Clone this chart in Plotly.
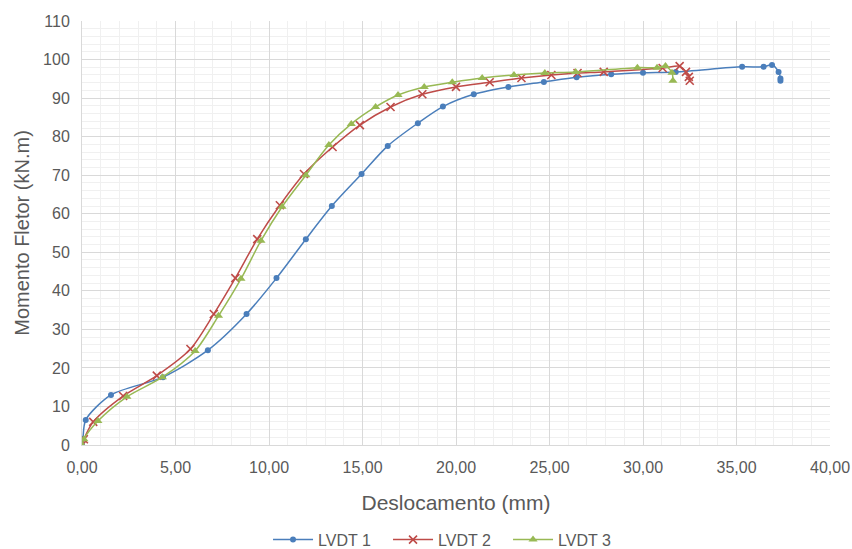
import plotly.graph_objects as go

# LVDT 1
x1 = [0.0, 0.05, 0.2, 1.55, 4.33, 6.73, 8.8, 10.4, 11.97, 13.36, 14.95, 16.35, 17.96, 19.3,
      20.95, 22.8, 24.7, 26.45, 28.3, 30.0, 31.75, 35.3, 36.45, 36.9, 37.25, 37.35, 37.35]
y1 = [0.0, 1.6, 6.5, 13.0, 17.6, 24.6, 34.0, 43.3, 53.4, 62.0, 70.3, 77.6, 83.5, 87.8,
      91.0, 92.9, 94.2, 95.4, 96.2, 96.6, 96.8, 98.1, 98.1, 98.6, 96.8, 95.1, 94.5]

# LVDT 2
x2 = [0.0, 0.1, 0.6, 2.2, 4.0, 5.8, 7.05, 8.2, 9.37, 10.58, 11.87, 13.4, 14.86, 16.5, 18.2,
      20.0, 21.8, 23.5, 25.1, 26.5, 27.9, 31.05, 31.96, 32.3, 32.45, 32.5]
y2 = [0.0, 1.5, 6.0, 12.7, 18.0, 24.9, 34.0, 43.3, 53.4, 62.2, 70.3, 77.3, 83.0, 87.7, 91.0,
      92.9, 94.1, 95.2, 96.0, 96.5, 96.8, 97.8, 98.3, 96.8, 95.5, 94.5]

# LVDT 3
x3 = [0.0, 0.1, 0.85, 2.4, 4.3, 6.05, 7.3, 8.5, 9.57, 10.7, 11.97, 13.2, 14.4, 15.7, 16.9,
      18.3, 19.8, 21.4, 23.1, 24.75, 26.4, 29.7, 30.75, 31.2, 31.55, 31.6]
y3 = [0.0, 1.5, 6.2, 12.5, 17.6, 24.4, 33.5, 43.1, 53.0, 61.8, 70.0, 77.8, 83.3, 87.7, 90.8,
      92.9, 94.1, 95.2, 96.0, 96.5, 96.8, 97.9, 97.9, 98.3, 96.6, 94.5]

x_tickvals = [0, 5, 10, 15, 20, 25, 30, 35, 40]
x_ticktext = ["0,00", "5,00", "10,00", "15,00", "20,00", "25,00", "30,00", "35,00", "40,00"]
y_tickvals = [0, 10, 20, 30, 40, 50, 60, 70, 80, 90, 100, 110]

fig = go.Figure()
fig.add_trace(go.Scatter(x=x1, y=y1, name="LVDT 1", mode="lines+markers",
                         line=dict(color="#4a7ebb", width=1.5, shape="spline", smoothing=0.8),
                         marker=dict(symbol="circle", size=6, color="#4a7ebb")))
fig.add_trace(go.Scatter(x=x2, y=y2, name="LVDT 2", mode="lines+markers",
                         line=dict(color="#be4b48", width=1.5, shape="spline", smoothing=0.8),
                         marker=dict(symbol="x-thin", size=8, color="#be4b48",
                                     line=dict(color="#be4b48", width=1.6))))
fig.add_trace(go.Scatter(x=x3, y=y3, name="LVDT 3", mode="lines+markers",
                         line=dict(color="#98b954", width=1.5, shape="spline", smoothing=0.8),
                         marker=dict(symbol="triangle-up", size=8, color="#98b954")))

fig.update_layout(
    width=852, height=549,
    margin=dict(l=82, r=22, t=21, b=104, autoexpand=False),
    paper_bgcolor="white", plot_bgcolor="white",
    font=dict(family="Liberation Sans, Arial, sans-serif", color="#595959", size=16),
    showlegend=True,
    legend=dict(orientation="h", x=0.2487, xanchor="left", yref="container", y=0.017,
                yanchor="middle", font=dict(size=16, color="#595959"), traceorder="normal",
                itemwidth=40, entrywidth=65),
)
fig.update_xaxes(range=[0, 40], tickvals=x_tickvals, ticktext=x_ticktext,
                 automargin=False, ticklabelstandoff=8,
                 showgrid=True, gridcolor="#d9d9d9", gridwidth=1,
                 minor=dict(dtick=1, showgrid=True, gridcolor="#f0f0f0", gridwidth=1),
                 showline=True, linecolor="#d9d9d9", zeroline=False, ticks="",
                 title=dict(text="Deslocamento (mm)", font=dict(size=21, color="#595959"), standoff=20),
                 tickfont=dict(size=16, color="#595959"))
fig.update_yaxes(range=[0, 110], tickvals=y_tickvals,
                 automargin=False, ticklabelstandoff=8,
                 showgrid=True, gridcolor="#d9d9d9", gridwidth=1,
                 minor=dict(dtick=2, showgrid=True, gridcolor="#f0f0f0", gridwidth=1),
                 showline=True, linecolor="#d9d9d9", zeroline=False, ticks="",
                 title=dict(text="Momento Fletor (kN.m)", font=dict(size=20, color="#595959"), standoff=8),
                 tickfont=dict(size=16, color="#595959"))

fig.write_html("out.html", config={"displayModeBar": False},
               post_script="document.body.style.margin='0';")
